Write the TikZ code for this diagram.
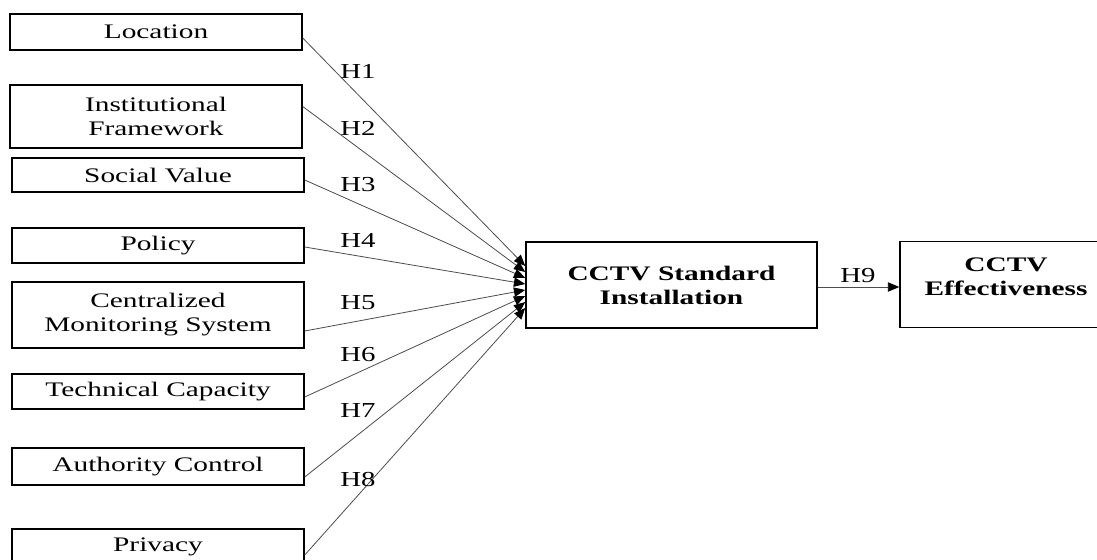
\documentclass[tikz,border=0pt]{standalone}
\usepackage{fontspec}
\usepackage{tikz}
\usetikzlibrary{arrows.meta,calc}
\newfontfamily\boxfont[FakeStretch=1.42]{Liberation Serif}
\newfontfamily\hypfont[FakeStretch=1.35]{Liberation Serif}

\begin{document}
\begin{tikzpicture}[x=0.75pt,y=-0.75pt]
	\clip (0,0) rectangle (1097,560);
	\tikzstyle{factor}=[draw,line width=1.1pt,inner sep=0pt,minimum width=219pt,align=center,font=\boxfont\fontsize{15.5}{18}\selectfont]
	\tikzstyle{bigbox}=[factor,minimum height=64.5pt,font=\boxfont\bfseries\fontsize{15.5}{18}\selectfont]
	\tikzstyle{hyp}=[font=\hypfont\fontsize{16}{18}\selectfont]
	\tikzstyle{link}=[draw=black!70,line width=0.6pt,-{Triangle[length=8.5pt,width=7pt,color=black]}]
	\node[factor,minimum height=27pt] (loc) at (156,32) {Location};
	\node[factor,minimum height=47.25pt] (inst) at (156,116.5) {Institutional\\Framework};
	\node[factor,minimum height=25.5pt] (soc) at (158,175) {Social Value};
	\node[factor,minimum height=26.25pt] (pol) at (158,245.5) {Policy};
	\node[factor,minimum height=49.5pt] (cms) at (158,315) {Centralized\\Monitoring System};
	\node[factor,minimum height=26.25pt] (tech) at (158,391.5) {Technical Capacity};
	\node[factor,minimum height=27.75pt] (auth) at (158,466.5) {Authority Control};
	\node[factor,minimum height=27pt] (priv) at (158,547) {Privacy};
	\node[bigbox,minimum width=218.25pt] (cctv) at (671.5,285) {CCTV Standard\\Installation};
	\node[bigbox,minimum width=159pt] (eff) at (1006,284.5) {};
	\node[font=\boxfont\bfseries\fontsize{15.5}{18}\selectfont,align=center] (efftext) at (1006,277) {CCTV\\Effectiveness};
	% hypotheses H1..H8
	\foreach \src/\dy/\dz in {loc/6/-19,inst/-10/-13,soc/5/-7,pol/1.5/-1,cms/16/5,tech/5.5/11,auth/10.5/17,priv/8/23}
		\draw[link] ($(\src.east)+(0,\dy)$) -- ($(cctv.west)+(0,\dz)$);
	\foreach \i/\y in {1/71,2/128,3/185,4/240,5/303,6/355,7/411,8/480}
		\node[hyp] (h\i) at (358,\y) {H\i};
	\draw[link] ($(cctv.east)+(0,2)$) -- ($(eff.west)+(0,2.5)$);
	\node[hyp] (h9) at (858,276) {H9};
\end{tikzpicture}
\end{document}
